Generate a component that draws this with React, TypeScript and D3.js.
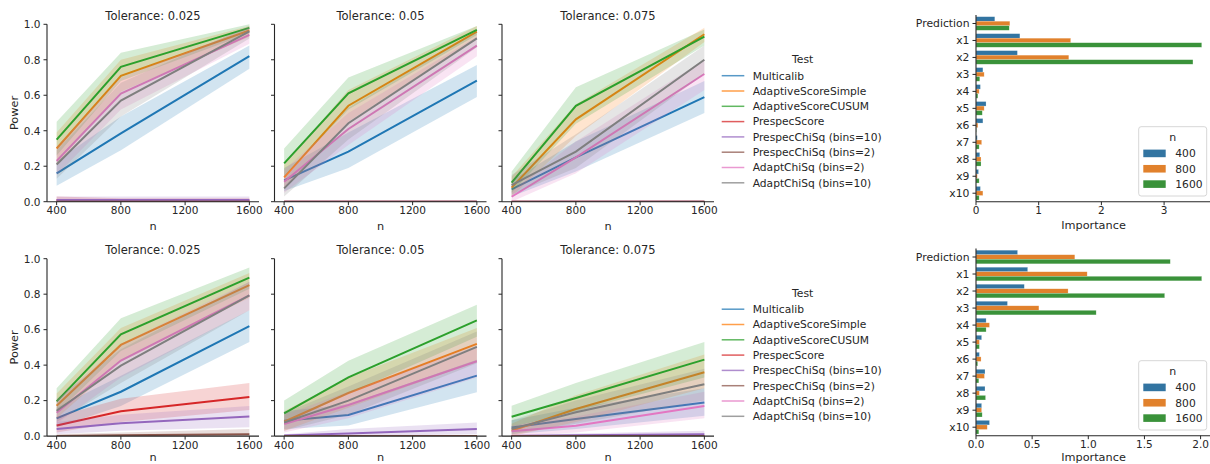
import React from "react";
import * as d3 from "d3";

// ---------- DATA ----------
const nValues = [400, 800, 1600];
const xTicks = [400, 800, 1200, 1600];
const yTicks = [0, 0.2, 0.4, 0.6, 0.8, 1.0];
const tolerances = ["0.025", "0.05", "0.075"];
const tests = [
  "Multicalib",
  "AdaptiveScoreSimple",
  "AdaptiveScoreCUSUM",
  "PrespecScore",
  "PrespecChiSq (bins=10)",
  "PrespecChiSq (bins=2)",
  "AdaptChiSq (bins=2)",
  "AdaptChiSq (bins=10)",
];
const testColors = ["#1f77b4", "#ff7f0e", "#2ca02c", "#d62728", "#9467bd", "#8c564b", "#e377c2", "#7f7f7f"];

// top row
const topMean025 = [[0.16, 0.385, 0.82], [0.3, 0.71, 0.965], [0.35, 0.76, 0.98], [0.01, 0.005, 0.005], [0.01, 0.01, 0.01], [0, 0, 0], [0.23, 0.61, 0.94], [0.21, 0.57, 0.96]];
const topLo025 = [[0.09, 0.29, 0.75], [0.21, 0.62, 0.93], [0.26, 0.68, 0.95], [0, 0, 0], [0, 0, 0], [0, 0, 0], [0.15, 0.52, 0.89], [0.13, 0.48, 0.92]];
const topHi025 = [[0.23, 0.48, 0.88], [0.39, 0.8, 0.99], [0.45, 0.84, 1.0], [0.03, 0.02, 0.02], [0.03, 0.03, 0.03], [0.01, 0.01, 0.01], [0.31, 0.7, 0.98], [0.29, 0.67, 0.99]];

const topMean05 = [[0.12, 0.282, 0.682], [0.137, 0.541, 0.959], [0.216, 0.611, 0.968], [0, 0, 0], [0, 0, 0], [0, 0, 0], [0.113, 0.41, 0.88], [0.075, 0.442, 0.921]];
const topLo05 = [[0.06, 0.19, 0.59], [0.07, 0.45, 0.92], [0.14, 0.52, 0.94], [0, 0, 0], [0, 0, 0], [0, 0, 0], [0.05, 0.32, 0.82], [0.03, 0.35, 0.87]];
const topHi05 = [[0.19, 0.39, 0.77], [0.21, 0.63, 0.99], [0.3, 0.7, 0.99], [0, 0, 0], [0, 0, 0], [0, 0, 0], [0.18, 0.5, 0.93], [0.13, 0.53, 0.96]];

const topMean075 = [[0.07, 0.25, 0.59], [0.079, 0.464, 0.944], [0.107, 0.54, 0.93], [0, 0, 0], [0, 0, 0], [0, 0, 0], [0.028, 0.25, 0.72], [0.094, 0.282, 0.8]];
const topLo075 = [[0.03, 0.17, 0.5], [0.03, 0.37, 0.9], [0.05, 0.44, 0.88], [0, 0, 0], [0, 0, 0], [0, 0, 0], [0.0, 0.16, 0.63], [0.04, 0.19, 0.72]];
const topHi075 = [[0.12, 0.34, 0.68], [0.14, 0.55, 0.98], [0.17, 0.645, 0.97], [0, 0, 0], [0, 0, 0], [0, 0, 0], [0.06, 0.34, 0.8], [0.15, 0.38, 0.88]];

// bottom row
const botMean025 = [[0.1, 0.25, 0.62], [0.171, 0.514, 0.851], [0.196, 0.574, 0.893], [0.06, 0.14, 0.22], [0.04, 0.072, 0.111], [0, 0.005, 0.01], [0.132, 0.426, 0.793], [0.143, 0.397, 0.793]];
const botLo025 = [[0.05, 0.17, 0.53], [0.1, 0.42, 0.78], [0.13, 0.48, 0.83], [0.02, 0.08, 0.147], [0.01, 0.03, 0.05], [0, 0, 0], [0.07, 0.33, 0.71], [0.08, 0.3, 0.71]];
const botHi025 = [[0.16, 0.34, 0.71], [0.24, 0.61, 0.92], [0.27, 0.665, 0.95], [0.11, 0.21, 0.3], [0.08, 0.12, 0.17], [0.01, 0.02, 0.04], [0.2, 0.52, 0.87], [0.21, 0.49, 0.87]];

const botMean05 = [[0.087, 0.119, 0.341], [0.081, 0.243, 0.52], [0.128, 0.331, 0.652], [0, 0, 0], [0.004, 0.015, 0.04], [0, 0, 0], [0.068, 0.175, 0.422], [0.077, 0.2, 0.503]];
const botLo05 = [[0.04, 0.06, 0.247], [0.03, 0.16, 0.42], [0.07, 0.24, 0.56], [0, 0, 0], [0, 0, 0.01], [0, 0, 0], [0.02, 0.1, 0.33], [0.03, 0.12, 0.41]];
const botHi05 = [[0.14, 0.18, 0.43], [0.14, 0.33, 0.61], [0.2, 0.425, 0.74], [0, 0, 0], [0.01, 0.04, 0.077], [0, 0, 0], [0.12, 0.25, 0.51], [0.13, 0.28, 0.59]];

const botMean075 = [[0.049, 0.096, 0.19], [0.03, 0.153, 0.36], [0.109, 0.215, 0.431], [0, 0, 0], [0, 0.005, 0.011], [0, 0, 0], [0.028, 0.058, 0.17], [0.04, 0.134, 0.292]];
const botLo075 = [[0.01, 0.04, 0.115], [0.0, 0.08, 0.27], [0.05, 0.14, 0.33], [0, 0, 0], [0, 0, 0], [0, 0, 0], [0.0, 0.02, 0.1], [0.01, 0.07, 0.2]];
const botHi075 = [[0.09, 0.16, 0.27], [0.07, 0.23, 0.46], [0.171, 0.3, 0.53], [0, 0, 0], [0.01, 0.015, 0.03], [0, 0, 0], [0.06, 0.11, 0.25], [0.09, 0.2, 0.38]];

// feature importance
const features = ["Prediction", "x1", "x2", "x3", "x4", "x5", "x6", "x7", "x8", "x9", "x10"];
const sizeLabels = ["400", "800", "1600"];
const barColors = ["#3274a1", "#e1812c", "#3a923a"];
const topImp400 = [0.3, 0.7, 0.66, 0.11, 0.07, 0.16, 0.11, 0.02, 0.06, 0.04, 0.07];
const topImp800 = [0.54, 1.51, 1.48, 0.13, 0.05, 0.13, 0.03, 0.09, 0.08, 0.02, 0.11];
const topImp1600 = [0.53, 3.6, 3.46, 0.06, 0.03, 0.1, 0.005, 0.05, 0.08, 0.05, 0.05];
const botImp400 = [0.37, 0.46, 0.43, 0.28, 0.09, 0.05, 0.03, 0.08, 0.08, 0.05, 0.12];
const botImp800 = [0.88, 0.99, 0.82, 0.56, 0.12, 0.03, 0.045, 0.075, 0.03, 0.05, 0.1];
const botImp1600 = [1.73, 2.01, 1.68, 1.07, 0.09, 0.03, 0.015, 0.025, 0.085, 0.055, 0.025];
const topBarTicks = [0, 1, 2, 3];
const botBarTicks = [0, 0.5, 1.0, 1.5, 2.0];

// ---------- LAYOUT ----------
const FONT = "DejaVu Sans, sans-serif";
const INK = "#262626";
const panelX = [47, 274.5, 502];
const panelW = 212;
const rowTop = [24.3, 258.7];
const panelH = 177.4;
const MAX_LABEL_Y = 461;

type PanelProps = { x0: number; y0: number; mean: number[][]; lo: number[][]; hi: number[][]; title: string; showY: boolean };

function LinePanel({ x0, y0, mean, lo, hi, title, showY }: PanelProps) {
  const x = d3.scaleLinear().domain([340, 1660]).range([x0, x0 + panelW]);
  const y = d3.scaleLinear().domain([0, 1]).range([y0 + panelH, y0]);
  const line = d3.line<number>().x((_, i) => x(nValues[i])).y((d) => y(d));
  const bottom = y0 + panelH;
  return (
    <g>
      <defs>
        <clipPath id={`clip-${x0}-${y0}`}>
          <rect x={x0} y={y0 - 2} width={panelW} height={panelH + 2} />
        </clipPath>
      </defs>
      <g clipPath={`url(#clip-${x0}-${y0})`}>
        {tests.map((t, s) => {
          const bandArea = d3
            .area<number>()
            .x((_, i) => x(nValues[i]))
            .y0((_, i) => y(lo[s][i]))
            .y1((_, i) => y(hi[s][i]));
          return (
            <g key={t}>
              <path d={bandArea(nValues) || ""} fill={testColors[s]} fillOpacity={0.2} stroke="none" />
              <path d={line(mean[s]) || ""} fill="none" stroke={testColors[s]} strokeWidth={2} />
            </g>
          );
        })}
      </g>
      {/* spines */}
      <line x1={x0} x2={x0} y1={y0} y2={bottom} stroke={INK} strokeWidth={1.1} />
      <line x1={x0} x2={x0 + panelW} y1={bottom} y2={bottom} stroke={INK} strokeWidth={1.1} />
      {xTicks.map((t) => (
        <g key={t}>
          <line x1={x(t)} x2={x(t)} y1={bottom} y2={bottom + 3.5} stroke={INK} strokeWidth={1} />
          <text x={x(t)} y={bottom + 12.5} fontSize={10.5} fill={INK} textAnchor="middle" fontFamily={FONT}>
            {t}
          </text>
        </g>
      ))}
      {yTicks.map((t) => (
        <g key={t}>
          <line x1={x0 - 3.5} x2={x0} y1={y(t)} y2={y(t)} stroke={INK} strokeWidth={1} />
          {showY && (
            <text x={x0 - 6.5} y={y(t) + 3.8} fontSize={10.5} fill={INK} textAnchor="end" fontFamily={FONT}>
              {t.toFixed(1)}
            </text>
          )}
        </g>
      ))}
      <text x={x0 + panelW / 2} y={y0 - 4.6} fontSize={11.5} fill={INK} textAnchor="middle" fontFamily={FONT}>
        {`Tolerance: ${title}`}
      </text>
      <text
        x={x0 + panelW / 2}
        y={Math.min(bottom + 28, MAX_LABEL_Y)}
        fontSize={11.3}
        fill={INK}
        textAnchor="middle"
        fontFamily={FONT}
      >
        n
      </text>
      {showY && (
        <text
          transform={`translate(${x0 - 29},${y0 + panelH / 2}) rotate(-90)`}
          fontSize={11.3}
          fill={INK}
          textAnchor="middle"
          fontFamily={FONT}
        >
          Power
        </text>
      )}
    </g>
  );
}

function TestLegend({ y0 }: { y0: number }) {
  const rowH = 15.3;
  return (
    <g fontFamily={FONT} fill={INK}>
      <text x={802.7} y={y0 + 3.8} fontSize={10.8} textAnchor="middle">
        Test
      </text>
      {tests.map((t, i) => {
        const yy = y0 + 16.4 + i * rowH;
        return (
          <g key={t}>
            <line x1={721.7} x2={744.3} y1={yy} y2={yy} stroke={testColors[i]} strokeWidth={1.5} strokeOpacity={0.75} />
            <text x={752.7} y={yy + 3.8} fontSize={10.7}>
              {t}
            </text>
          </g>
        );
      })}
    </g>
  );
}

type BarProps = { y0: number; y1: number; vals: number[][]; ticks: number[]; fmt: (v: number) => string };

function BarPanel({ y0, y1, vals, ticks, fmt }: BarProps) {
  const x0 = 976;
  const w = 237;
  const maxV = d3.max(vals.flat()) || 1;
  const x = d3.scaleLinear().domain([0, maxV * 1.05]).range([x0, x0 + w]);
  const yb = d3.scaleBand().domain(features).range([y0, y1]).paddingInner(0.2).paddingOuter(0.1);
  const ys = d3.scaleBand().domain(sizeLabels).range([0, yb.bandwidth()]);
  const legX = 1138.7;
  const legY = y1 - 75;
  return (
    <g fontFamily={FONT} fill={INK}>
      {features.map((f, fi) => (
        <g key={f}>
          {sizeLabels.map((s, si) => (
            <rect
              key={s}
              x={x(0)}
              y={(yb(f) || 0) + (ys(s) || 0)}
              width={x(vals[si][fi]) - x(0)}
              height={ys.bandwidth()}
              fill={barColors[si]}
              stroke="#ffffff"
              strokeOpacity={0.4}
              strokeWidth={0.5}
            />
          ))}
          <line
            x1={x0 - 3.5}
            x2={x0}
            y1={(yb(f) || 0) + yb.bandwidth() / 2}
            y2={(yb(f) || 0) + yb.bandwidth() / 2}
            stroke={INK}
          />
          <text x={x0 - 6.5} y={(yb(f) || 0) + yb.bandwidth() / 2 + 3.8} fontSize={10.8} textAnchor="end">
            {f}
          </text>
        </g>
      ))}
      <line x1={x0} x2={x0} y1={y0} y2={y1} stroke={INK} strokeWidth={1.1} />
      <line x1={x0} x2={x0 + w} y1={y1} y2={y1} stroke={INK} strokeWidth={1.1} />
      {ticks.map((t) => (
        <g key={t}>
          <line x1={x(t)} x2={x(t)} y1={y1} y2={y1 + 3.5} stroke={INK} />
          <text x={x(t)} y={y1 + 12.5} fontSize={10.5} textAnchor="middle">
            {fmt(t)}
          </text>
        </g>
      ))}
      <text x={x0 + w / 2 - 1} y={Math.min(y1 + 27, MAX_LABEL_Y)} fontSize={11.3} textAnchor="middle">
        Importance
      </text>
      <rect x={legX} y={legY} width={68} height={69.3} rx={2.5} fill="#ffffff" fillOpacity={0.8} stroke="#cccccc" strokeWidth={0.8} />
      <text x={legX + 34} y={legY + 14} fontSize={11} textAnchor="middle">
        n
      </text>
      {sizeLabels.map((s, i) => (
        <g key={s}>
          <rect x={legX + 4.6} y={legY + 22.9 + i * 15.35} width={22.4} height={7.6} fill={barColors[i]} />
          <text x={legX + 36.6} y={legY + 30.5 + i * 15.35} fontSize={10.7}>
            {s}
          </text>
        </g>
      ))}
    </g>
  );
}

export default function App() {
  const topData = [
    [topMean025, topLo025, topHi025],
    [topMean05, topLo05, topHi05],
    [topMean075, topLo075, topHi075],
  ];
  const botData = [
    [botMean025, botLo025, botHi025],
    [botMean05, botLo05, botHi05],
    [botMean075, botLo075, botHi075],
  ];
  const rows = [topData, botData];
  return (
    <svg width={1210} height={464} style={{ position: "absolute", left: 0, top: 0, background: "#fff" }}>
      <rect x={0} y={0} width={1210} height={464} fill="#ffffff" />
      {rows.map((row, r) =>
        row.map((d, p) => (
          <LinePanel
            key={`${r}-${p}`}
            x0={panelX[p]}
            y0={rowTop[r]}
            mean={d[0]}
            lo={d[1]}
            hi={d[2]}
            title={tolerances[p]}
            showY={p === 0}
          />
        ))
      )}
      <TestLegend y0={59.3} />
      <TestLegend y0={292.8} />
      <BarPanel y0={15} y1={201.7} vals={[topImp400, topImp800, topImp1600]} ticks={topBarTicks} fmt={(v) => String(v)} />
      <BarPanel y0={248.5} y1={435.7} vals={[botImp400, botImp800, botImp1600]} ticks={botBarTicks} fmt={(v) => v.toFixed(1)} />
    </svg>
  );
}
